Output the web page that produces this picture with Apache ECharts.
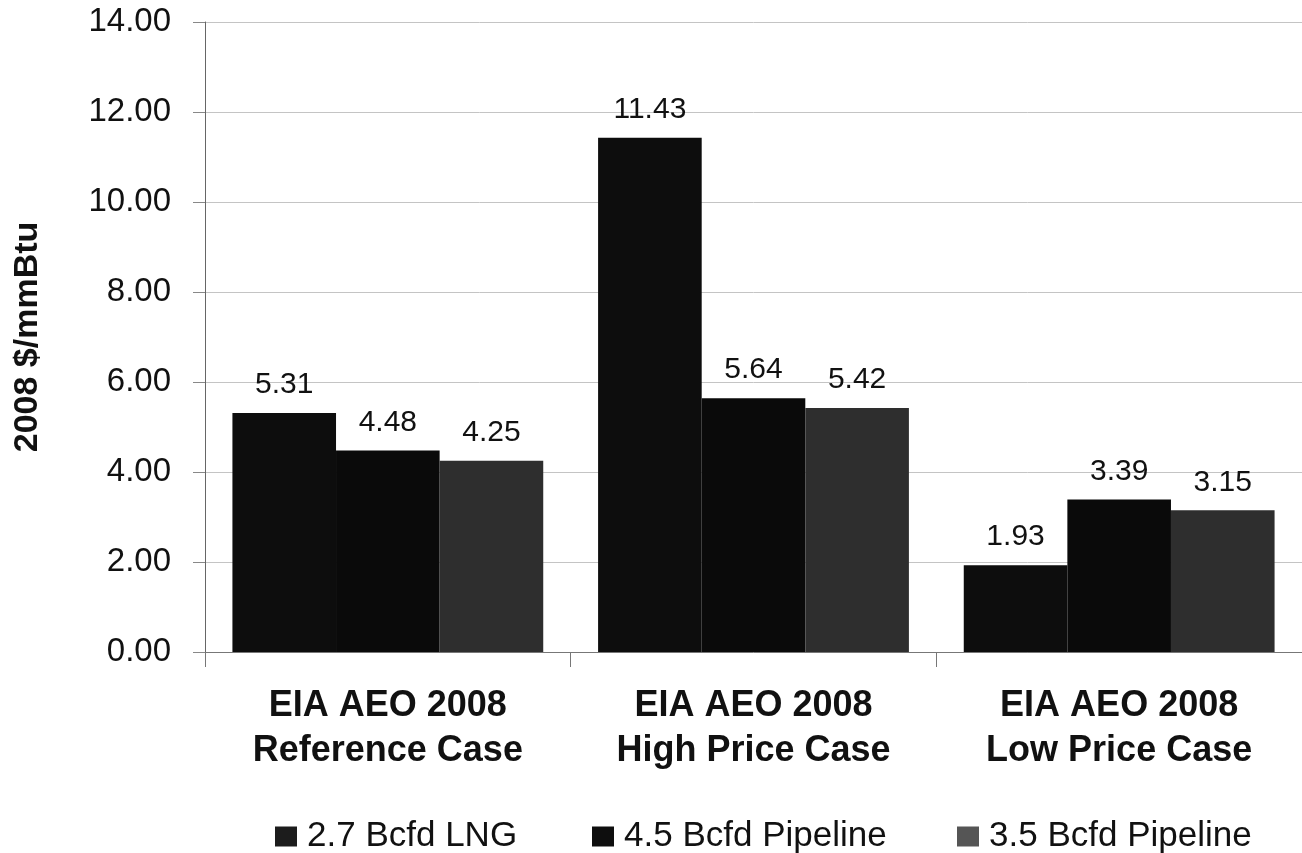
<!DOCTYPE html>
<html>
<head>
<meta charset="utf-8">
<script src="https://cdn.jsdelivr.net/npm/echarts@6/dist/echarts.min.js"></script>
<style>
  html, body { margin: 0; padding: 0; background: #fff; }
  #chart { width: 1302px; height: 853px; }
</style>
</head>
<body>
<div id="chart"></div>
<script>
// 图表数据
var categories = ['EIA AEO 2008\nReference Case', 'EIA AEO 2008\nHigh Price Case', 'EIA AEO 2008\nLow Price Case'];
var seriesNames = ['2.7 Bcfd LNG', '4.5 Bcfd Pipeline', '3.5 Bcfd Pipeline'];
var lng27 = [5.31, 11.43, 1.93];
var pipe45 = [4.48, 5.64, 3.39];
var pipe35 = [4.25, 5.42, 3.15];
var yTicks = { min: 0, max: 14, interval: 2 };

var colors = ['#0d0d0d', '#0a0a0a', '#2e2e2e'];
var legendColors = ['#1c1c1c', '#0e0e0e', '#555555'];
var legendLefts = [270, 587, 952];

var chart = echarts.init(document.getElementById('chart'));

function barSeries(name, data, color) {
    return {
        name: name,
        type: 'bar',
        data: data,
        barGap: '0%',
        barCategoryGap: '15%',
        itemStyle: { color: color },
        label: {
            show: true,
            position: 'top',
            distance: 13,
            formatter: function (p) { return p.value.toFixed(2); },
            fontFamily: 'Liberation Sans, Arial, sans-serif',
            fontSize: 30,
            color: '#111'
        }
    };
}

chart.setOption({
    animation: false,
    backgroundColor: '#fff',
    grid: { left: 205, top: 22, width: 1107, bottom: 201 },
    legend: seriesNames.map(function (n, i) {
        return {
            data: [{ name: n, itemStyle: { color: legendColors[i] } }],
            left: legendLefts[i],
            top: 814,
            icon: 'rect',
            itemWidth: 22,
            itemHeight: 20,
            textStyle: {
                fontFamily: 'Liberation Sans, Arial, sans-serif',
                fontSize: 35,
                color: '#111',
                padding: [0, 0, 0, 5]
            }
        };
    }),
    xAxis: {
        type: 'category',
        data: categories,
        axisLine: { lineStyle: { color: '#777', width: 1 } },
        axisTick: { show: true, interval: 0, length: 15, lineStyle: { color: '#777' } },
        axisLabel: {
            interval: 0,
            margin: 32,
            fontFamily: 'Liberation Sans, Arial, sans-serif',
            fontWeight: 'bold',
            fontSize: 36,
            lineHeight: 45,
            color: '#111'
        }
    },
    yAxis: {
        type: 'value',
        min: yTicks.min,
        max: yTicks.max,
        interval: yTicks.interval,
        name: '2008 $/mmBtu',
        nameLocation: 'middle',
        nameGap: 160,
        nameTextStyle: {
            fontFamily: 'Liberation Sans, Arial, sans-serif',
            fontWeight: 'bold',
            fontSize: 34,
            color: '#111'
        },
        axisLine: { show: true, lineStyle: { color: '#666', width: 1 } },
        axisTick: { show: true, length: 12, lineStyle: { color: '#888' } },
        axisLabel: {
            margin: 34,
            formatter: function (v) { return v.toFixed(2); },
            fontFamily: 'Liberation Sans, Arial, sans-serif',
            fontSize: 33,
            color: '#111'
        },
        splitLine: { lineStyle: { color: '#c4c4c4', width: 1 } }
    },
    series: [
        barSeries(seriesNames[0], lng27, colors[0]),
        barSeries(seriesNames[1], pipe45, colors[1]),
        barSeries(seriesNames[2], pipe35, colors[2])
    ]
});
</script>
</body>
</html>
